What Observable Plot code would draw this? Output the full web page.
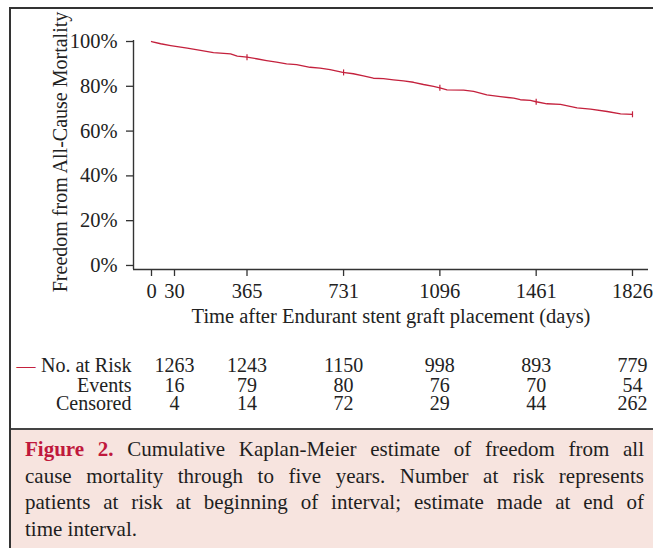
<!DOCTYPE html>
<html>
<head>
<meta charset="utf-8">
<script src="https://cdn.jsdelivr.net/npm/d3@7"></script>
<script src="https://cdn.jsdelivr.net/npm/@observablehq/plot@0.6"></script>
<style>
  html, body { margin: 0; padding: 0; background: #fff; }
  body { width: 653px; height: 548px; position: relative; overflow: hidden; font-family: "Liberation Serif", serif; }
  #frame { position: absolute; left: 9px; top: 7px; right: -2px; bottom: -2px; border-left: 2px solid #333; border-top: 2px solid #333; }
  #chart { position: absolute; left: 0; top: 0; }
  #caption { position: absolute; left: 11px; top: 428px; width: 642px; height: 120px; background: #f7e4df; border-top: 2px solid #444; box-sizing: border-box; padding: 6px 9px 0 14px; font-size: 21px; line-height: 26.5px; color: #1e1e1e; }
  #caption .ln { text-align: justify; text-align-last: justify; white-space: nowrap; }
  #caption .ln.last { text-align-last: left; }
  #caption b { color: #c0183c; }
</style>
</head>
<body>
<div id="frame"></div>
<div id="chart"></div>
<div id="caption">
  <div class="ln"><b>Figure 2.</b> Cumulative Kaplan-Meier estimate of freedom from all</div>
  <div class="ln">cause mortality through to five years. Number at risk represents</div>
  <div class="ln">patients at risk at beginning of interval; estimate made at end of</div>
  <div class="ln last">time interval.</div>
</div>
<script>
// Kaplan-Meier curve (days, % free from all-cause mortality)
const kmDays = [0, 12, 25, 89, 150, 210, 289, 320, 365, 401, 439, 477, 515, 553, 604, 642, 680, 728, 768, 806, 844, 882, 920, 958, 996, 1034, 1072, 1096, 1123, 1186, 1224, 1274, 1325, 1376, 1401, 1439, 1461, 1502, 1553, 1616, 1667, 1730, 1781, 1826];
const kmSurv = [100, 99.0, 98.2, 97.0, 96.0, 95.0, 94.5, 93.5, 93.0, 92.3, 91.5, 90.8, 90.0, 89.7, 88.5, 88.1, 87.4, 86.2, 85.6, 84.7, 83.6, 83.4, 82.9, 82.4, 81.8, 80.8, 80.0, 79.3, 78.4, 78.3, 77.7, 76.2, 75.4, 74.7, 74.0, 73.7, 73.1, 72.2, 71.9, 70.4, 69.8, 68.75, 67.7, 67.5];

// censor marks
const censorDays = [365, 731, 1096, 1461, 1826];

// axes
const xTicks = [0, 30, 365, 731, 1096, 1461, 1826];
const yTicks = [0, 20, 40, 60, 80, 100];

// risk table
const tableDays = [30, 365, 731, 1096, 1461, 1826];
const atRisk = [1263, 1243, 1150, 998, 893, 779];
const events = [16, 79, 80, 76, 70, 54];
const censored = [4, 14, 72, 29, 44, 262];
const rowLabels = ["No. at Risk", "Events", "Censored"];

const xTitle = "Time after Endurant stent graft placement (days)";
const yTitle = "Freedom from All-Cause Mortality";

const red = "#c4213d";
const ink = "#222";

const km = kmDays.map((d, i) => ({day: d, s: kmSurv[i]}));
const survAt = d => { let v = kmSurv[0]; kmDays.forEach((t, i) => { if (t <= d) v = kmSurv[i]; }); return v; };
const censorData = censorDays.map(d => ({day: d, s: survAt(d)}));

const rowDy = [96, 116, 134];
const tableRows = [atRisk, events, censored];

const vtick = { draw(ctx, size) { const h = 3; ctx.moveTo(0, -h); ctx.lineTo(0, h); } };

const tableMarks = tableRows.map((vals, r) =>
  Plot.text(tableDays.map((d, i) => ({day: d, v: vals[i]})), {
    x: "day", text: d => String(d.v), frameAnchor: "bottom", dy: rowDy[r], fill: ink, textAnchor: "middle", lineAnchor: "middle", fontSize: 20
  })
);
const labelMarks = rowLabels.map((t, r) =>
  Plot.text([t], { frameAnchor: "bottom-left", dx: -2, dy: rowDy[r], textAnchor: "end", lineAnchor: "middle", fill: ink, fontSize: 20 })
);

const xMin = -68.3, xMax = 1886.7, yMin = -1.8, yMax = 100.45;

const chart = Plot.plot({
  width: 653,
  height: 428,
  marginLeft: 133,
  marginRight: 5,
  marginTop: 40,
  marginBottom: 159,
  style: { fontFamily: "'Liberation Serif', serif", fontSize: "20.5px", color: ink, background: "transparent", overflow: "visible" },
  // the original's day axis is stretched between 0 and 30 (piecewise linear)
  x: { type: "linear", domain: [xMin, 0, 30, 365, xMax], range: [133, 151, 174, 246.5, 648] },
  y: { domain: [yMin, yMax] },
  marks: [
    Plot.axisX({ ticks: xTicks, tickSize: 7, tickPadding: 7, label: null, stroke: "#333", strokeWidth: 1.3, fill: ink, tickFormat: d => String(d) }),
    Plot.axisY({ ticks: yTicks, tickSize: 7, tickPadding: 9, label: null, stroke: "#333", strokeWidth: 1.3, fill: ink, tickFormat: d => d + "%" }),
    Plot.ruleY([yMin], { stroke: "#333", strokeWidth: 1.4 }),
    Plot.ruleX([xMin], { stroke: "#333", strokeWidth: 1.4 }),
    Plot.line(km, { x: "day", y: "s", curve: "linear", stroke: red, strokeWidth: 1.3 }),
    Plot.dot(censorData, { x: "day", y: "s", symbol: vtick, r: 3, stroke: red, strokeWidth: 1.2, fill: "none" }),
    Plot.text([xTitle], { frameAnchor: "bottom", dy: 47, lineAnchor: "middle", textAnchor: "middle", fill: ink }),
    Plot.text([yTitle], { frameAnchor: "left", dx: -73, dy: -3, rotate: -90, textAnchor: "middle", lineAnchor: "middle", fill: ink, fontSize: 20 }),
    ...tableMarks,
    ...labelMarks,
    Plot.text(["\u2014"], { frameAnchor: "bottom-left", dx: -117, dy: rowDy[0], textAnchor: "start", lineAnchor: "middle", fill: red, fontSize: 19 })
  ]
});
document.getElementById("chart").appendChild(chart);
</script>
</body>
</html>
